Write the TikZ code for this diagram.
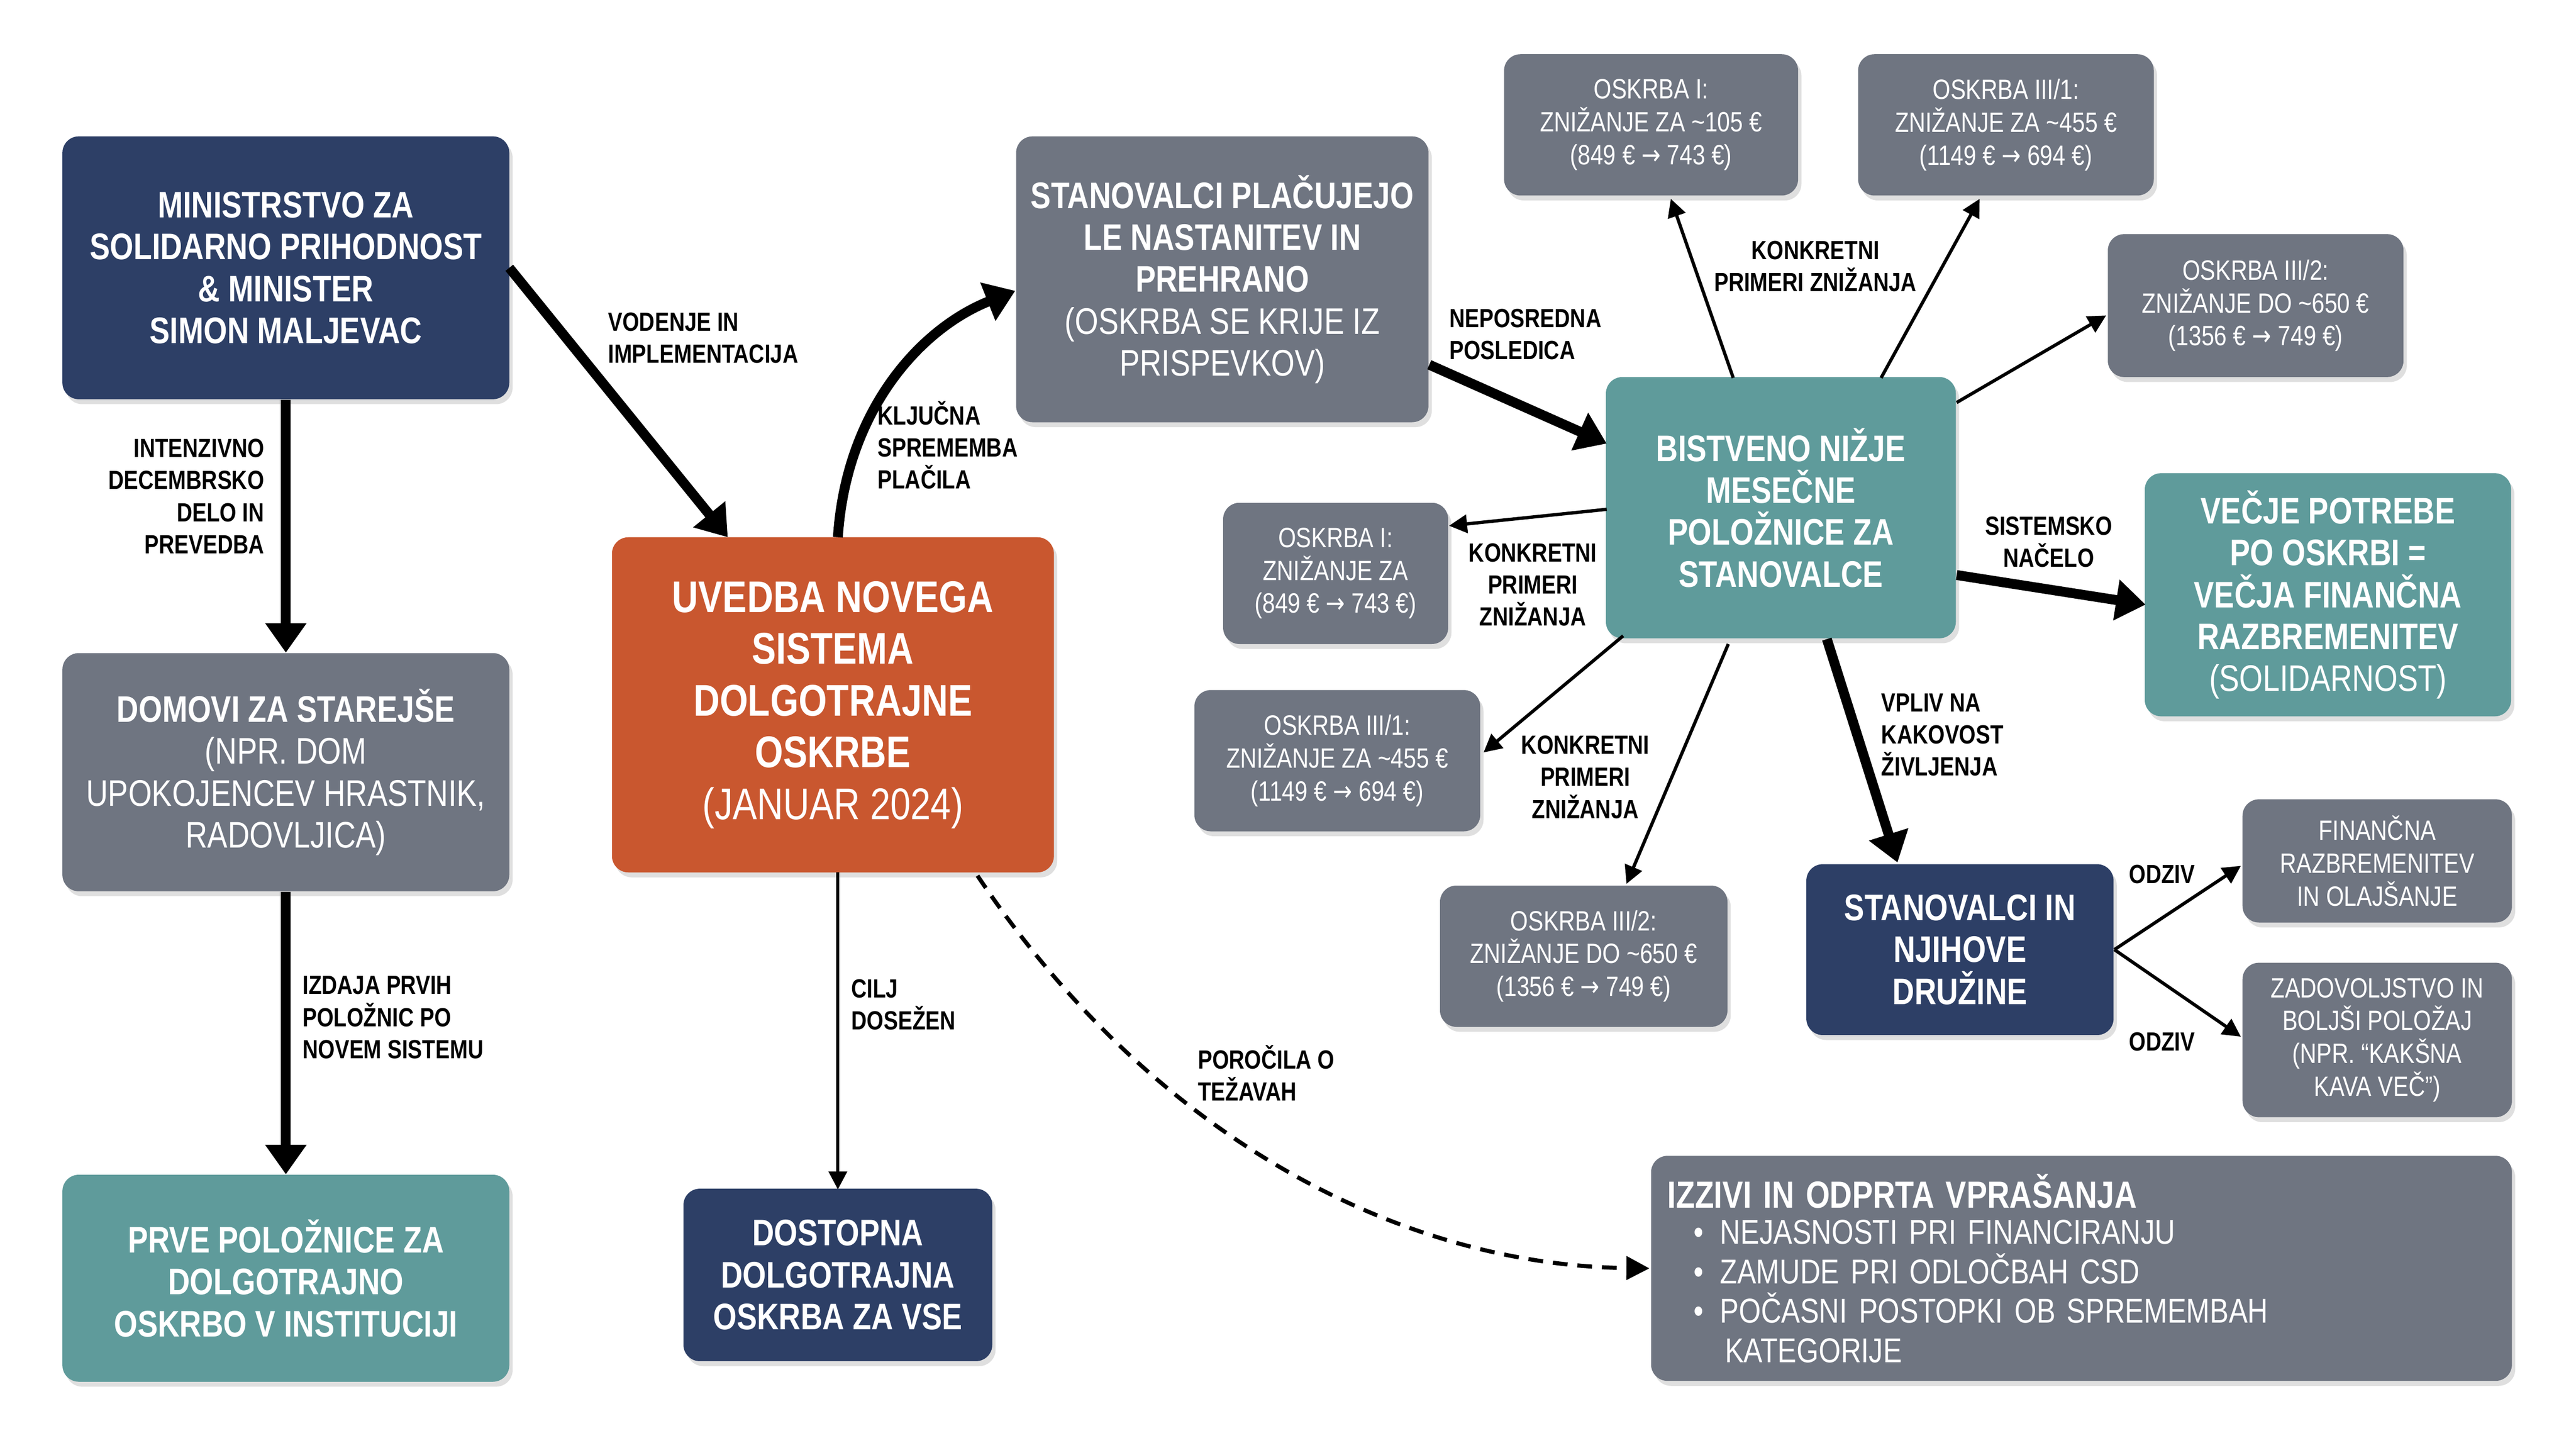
\documentclass[tikz,border=0pt]{standalone}
\usepackage{fontspec}
\setmainfont{Liberation Sans}[FakeStretch=0.82]
\newfontfamily\arr{DejaVu Sans}[FakeStretch=0.82]
\newcommand{\ra}{{\arr →}}
\usetikzlibrary{arrows.meta,shadows}
\definecolor{navy}{HTML}{2D3F66}
\definecolor{gry}{HTML}{6F7581}
\definecolor{teal}{HTML}{5F9B9B}
\definecolor{orng}{HTML}{C9572F}
\begin{document}
\begin{tikzpicture}[x=1pt,y=-1pt,
 box/.style={rounded corners=10pt,text=white,align=center,inner sep=3pt,drop shadow={opacity=0.25,shadow xshift=2pt,shadow yshift=-3pt}},
 big/.style={font=\fontsize{22.5}{25.5}\selectfont},
 sm/.style={font=\fontsize{17}{20}\selectfont},
 lab/.style={font=\bfseries\fontsize{16}{19.5}\selectfont,align=left,inner sep=0pt},
 thk/.style={line width=6pt,-{Triangle[length=18pt,width=24pt]}},
 thn/.style={line width=2pt,-{Triangle[length=11pt,width=11pt]}}]
\useasboundingbox[fill=white] (0,0) rectangle (1568,875);
% nodes
\node[box,big,fill=navy,minimum width=272,minimum height=160] (min) at (174,163) {\bfseries MINISTRSTVO ZA\\\bfseries SOLIDARNO PRIHODNOST\\\bfseries \& MINISTER\\\bfseries SIMON MALJEVAC};
\node[box,big,fill=gry,minimum width=272,minimum height=145] (dom) at (174,470) {\bfseries DOMOVI ZA STAREJŠE\\(NPR. DOM\\UPOKOJENCEV HRASTNIK,\\RADOVLJICA)};
\node[box,big,fill=teal,minimum width=272,minimum height=126] (prve) at (174,778) {\bfseries PRVE POLOŽNICE ZA\\\bfseries DOLGOTRAJNO\\\bfseries OSKRBO V INSTITUCIJI};
\node[box,fill=orng,minimum width=269,minimum height=204,font=\fontsize{27}{31.5}\selectfont] (uv) at (507,429) {\bfseries UVEDBA NOVEGA\\\bfseries SISTEMA\\\bfseries DOLGOTRAJNE\\\bfseries OSKRBE\\(JANUAR 2024)};
\node[box,big,fill=gry,minimum width=251,minimum height=174] (stp) at (744,170) {\bfseries STANOVALCI PLAČUJEJO\\\bfseries LE NASTANITEV IN\\\bfseries PREHRANO\\(OSKRBA SE KRIJE IZ\\PRISPEVKOV)};
\node[box,big,fill=navy,minimum width=188,minimum height=105] (dos) at (510,776) {\bfseries DOSTOPNA\\\bfseries DOLGOTRAJNA\\\bfseries OSKRBA ZA VSE};
\node[box,big,fill=teal,minimum width=213,minimum height=159] (bis) at (1084,309) {\bfseries BISTVENO NIŽJE\\\bfseries MESEČNE\\\bfseries POLOŽNICE ZA\\\bfseries STANOVALCE};
\node[box,sm,fill=gry,minimum width=179,minimum height=86] (o1t) at (1005,76) {OSKRBA I:\\ZNIŽANJE ZA \textasciitilde 105 €\\(849 € \ra{} 743 €)};
\node[box,sm,fill=gry,minimum width=180,minimum height=86] (o31t) at (1221,76) {OSKRBA III/1:\\ZNIŽANJE ZA \textasciitilde 455 €\\(1149 € \ra{} 694 €)};
\node[box,sm,fill=gry,minimum width=180,minimum height=87] (o32t) at (1373,186) {OSKRBA III/2:\\ZNIŽANJE DO \textasciitilde 650 €\\(1356 € \ra{} 749 €)};
\node[box,sm,fill=gry,minimum width=137,minimum height=86] (o1l) at (813,349) {OSKRBA I:\\ZNIŽANJE ZA\\(849 € \ra{} 743 €)};
\node[box,sm,fill=gry,minimum width=174,minimum height=86] (o31l) at (814,463) {OSKRBA III/1:\\ZNIŽANJE ZA \textasciitilde 455 €\\(1149 € \ra{} 694 €)};
\node[box,sm,fill=gry,minimum width=175,minimum height=86] (o32l) at (964,582) {OSKRBA III/2:\\ZNIŽANJE DO \textasciitilde 650 €\\(1356 € \ra{} 749 €)};
\node[box,big,fill=teal,minimum width=223,minimum height=148] (vec) at (1417,362) {\bfseries VEČJE POTREBE\\\bfseries PO OSKRBI =\\\bfseries VEČJA FINANČNA\\\bfseries RAZBREMENITEV\\(SOLIDARNOST)};
\node[box,big,fill=navy,minimum width=187,minimum height=104] (std) at (1193,578) {\bfseries STANOVALCI IN\\\bfseries NJIHOVE\\\bfseries DRUŽINE};
\node[box,sm,fill=gry,minimum width=164,minimum height=75] (fin) at (1447,524) {FINANČNA\\RAZBREMENITEV\\IN OLAJŠANJE};
\node[box,sm,fill=gry,minimum width=164,minimum height=94] (zad) at (1447,633) {ZADOVOLJSTVO IN\\BOLJŠI POLOŽAJ\\(NPR. “KAKŠNA\\KAVA VEČ”)};
\node[box,fill=gry,minimum width=524,minimum height=137,align=left,text width=504,font=\fontsize{21}{24}\selectfont] (izz) at (1267,772) {{\bfseries\fontsize{23}{24}\selectfont IZZIVI IN ODPRTA VPRAŠANJA}\\[-2pt]
\hspace*{16pt}\textbullet\hspace{10pt}NEJASNOSTI PRI FINANCIRANJU\\
\hspace*{16pt}\textbullet\hspace{10pt}ZAMUDE PRI ODLOČBAH CSD\\
\hspace*{16pt}\textbullet\hspace{10pt}POČASNI POSTOPKI OB SPREMEMBAH\\
\hspace*{35pt}KATEGORIJE};
% connectors
\draw[thk] (min.south) -- (dom.north);
\node[lab,align=right,anchor=north east] at (161,267) {INTENZIVNO\\DECEMBRSKO\\DELO IN\\PREVEDBA};
\draw[thk] (dom.south) -- (prve.north);
\node[lab,anchor=north west] at (184,594) {IZDAJA PRVIH\\POLOŽNIC PO\\NOVEM SISTEMU};
\draw[thk] (310,163) -- (443,327);
\node[lab,anchor=north west] at (370,190) {VODENJE IN\\IMPLEMENTACIJA};
\draw[thk] (510,327) .. controls (515,250) and (560,200) .. (618,177);
\node[lab,anchor=north west] at (534,244) {KLJUČNA\\SPREMEMBA\\PLAČILA};
\draw[thn] (510,531) -- (510,724);
\node[lab,anchor=north west] at (518,596) {CILJ\\DOSEŽEN};
\draw[line width=2.5pt,dash pattern=on 9pt off 6pt,-{Triangle[length=14pt,width=14pt]}] (595,533) .. controls (700,690) and (850,770) .. (1004,772);
\node[lab,anchor=north west] at (729,636) {POROČILA O\\TEŽAVAH};
\draw[thk] (870,222) -- (978,270);
\node[lab,anchor=north west] at (882,188) {NEPOSREDNA\\POSLEDICA};
\draw[thn] (1055,230) -- (1017,121);
\draw[thn] (1145,230) -- (1205,121);
\node[lab,align=center] at (1105,162) {KONKRETNI\\PRIMERI ZNIŽANJA};
\draw[thn] (1191,245) -- (1282,192);
\draw[thn] (978,310) -- (882,320);
\node[lab,align=center] at (933,356) {KONKRETNI\\PRIMERI\\ZNIŽANJA};
\draw[thn] (988,387) -- (903,458);
\node[lab,align=center] at (965,473) {KONKRETNI\\PRIMERI\\ZNIŽANJA};
\draw[thn] (1052,392) -- (990,538);
\draw[thk] (1191,350) -- (1306,368);
\node[lab,align=center] at (1247,330) {SISTEMSKO\\NAČELO};
\draw[thk] (1112,389) -- (1155,525);
\node[lab,anchor=north west] at (1145,422) {VPLIV NA\\KAKOVOST\\ŽIVLJENJA};
\draw[thn] (1287,578) -- (1364,527);
\draw[thn] (1287,578) -- (1364,631);
\node[lab] at (1316,532) {ODZIV};
\node[lab] at (1316,634) {ODZIV};
\end{tikzpicture}
\end{document}
